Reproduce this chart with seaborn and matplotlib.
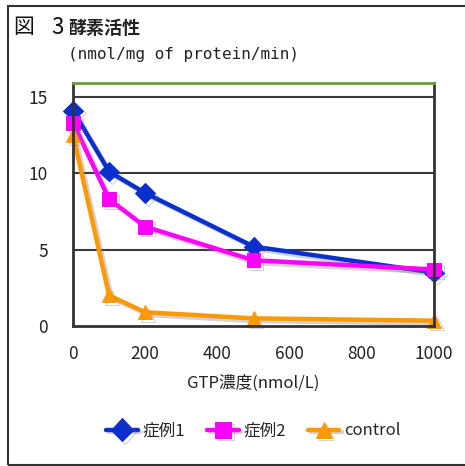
import numpy as np
import pandas as pd
import matplotlib
matplotlib.use("Agg")
import matplotlib.pyplot as plt
import matplotlib.patheffects as pe
from matplotlib.patches import Rectangle
import seaborn as sns

# data
gtp_conc = [0, 100, 200, 500, 1000]
case1 = [14.1, 10.1, 8.7, 5.2, 3.5]
case2 = [13.3, 8.3, 6.5, 4.3, 3.7]
control = [12.5, 2.0, 0.9, 0.5, 0.35]

series_names = ['症例1', '症例2', 'control']
series_colors = ['#0A2FCC', '#FF00FF', '#FF9900']
series_markers = ['D', 's', '^']
y_ticks = [0, 5, 10, 15]
x_ticks = [0, 200, 400, 600, 800, 1000]

sns.set_theme(style="white")
plt.rcParams['font.family'] = ['Noto Sans CJK JP', 'DejaVu Sans']
JP = ['Noto Sans CJK JP', 'DejaVu Sans']

fig = plt.figure(figsize=(4.65, 4.66), dpi=100)
ax = fig.add_axes([73 / 465, 1 - 326 / 466, (434 - 73) / 465, (326 - 83) / 466])

values = [case1, case2, control]
for name, vals, col, mk in zip(series_names, values, series_colors, series_markers):
    sns.lineplot(x=gtp_conc, y=vals, ax=ax, color=col, marker=mk, markersize=10,
                 markeredgecolor=col, linewidth=3.2, label=name, clip_on=False)

for ln in ax.lines:
    ln.set_path_effects([pe.SimpleLineShadow(offset=(2, -2), shadow_color='gray', alpha=0.35),
                         pe.Normal()])

ax.set_xlim(0, 1000)
ax.set_ylim(0, 15.9)
ax.set_yticks(y_ticks)
ax.set_xticks(x_ticks)
ax.set_yticklabels([str(v) for v in y_ticks], fontsize=12.5, color='#222222')
ax.set_xticklabels([str(v) for v in x_ticks], fontsize=12.5, color='#222222')
ax.tick_params(axis='y', length=0, pad=18)
ax.tick_params(axis='x', direction='in', length=5, width=1.3, color='#333333', pad=14)
for y in [5, 10, 15]:
    ax.axhline(y, color='#3a3a3a', lw=1.5, zorder=0.5)

for side in ['left', 'bottom', 'right']:
    ax.spines[side].set_color('#333333')
    ax.spines[side].set_linewidth(2)
ax.spines['top'].set_color('#6E9E3A')
ax.spines['top'].set_linewidth(2)

ax.set_xlabel("GTP濃度(nmol/L)", fontsize=12, family=JP, color='#222222', labelpad=8)
ax.set_ylabel("")

leg = ax.legend(loc='upper center', bbox_to_anchor=(0.5, -0.335), ncol=3, frameon=False,
                prop={'family': JP, 'size': 12}, handlelength=1.9, columnspacing=1.3,
                handletextpad=0.3, markerscale=1.15)

fig.text(13 / 465, 1 - 27 / 466, "図", fontsize=15, family=JP, va='center', color='#111111')
fig.text(51 / 465, 1 - 27 / 466, "3", fontsize=16, family=JP, va='center', color='#111111')
fig.text(68 / 465, 1 - 29 / 466, "酵素活性", fontsize=13, family=JP, weight='bold',
         va='center', color='#222222')
fig.text(68 / 465, 1 - 55 / 466, "(nmol/mg of protein/min)", fontsize=11.5,
         family=['DejaVu Sans Mono'], va='center', color='#222222')

fig.add_artist(Rectangle((8 / 465, 1 / 466), 1.2, 1 - 7 / 466, transform=fig.transFigure,
                         fill=False, lw=1.5, ec='#333333'))

plt.savefig("out.png", dpi=100)
plt.close()
